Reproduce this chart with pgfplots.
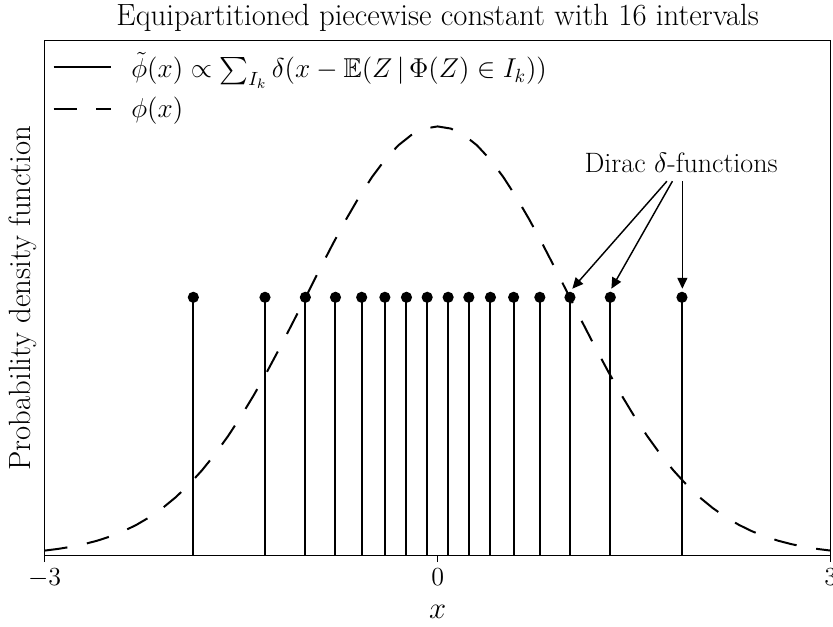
\documentclass[border=0pt]{standalone}
\usepackage{fix-cm}
\usepackage{pgfplots}
\pgfplotsset{compat=1.18}
\usepackage{amssymb}
\usetikzlibrary{arrows.meta}

\begin{document}
\begin{tikzpicture}[font=\fontsize{15.5}{18}\selectfont]
\begin{axis}[
  name=ax,
  scale only axis,
  width=434.8pt, height=284.7pt,
  xmin=-3, xmax=3, ymin=0, ymax=0.4787,
  xtick={-3,0,3},
  ytick=\empty,
  tick pos=left,
  tick align=outside,
  major tick length=3.7pt,
  every tick/.style={black, line width=0.8pt},
  axis line style={line width=0.8pt},
  tick label style={font=\fontsize{14.4}{17}\selectfont},
  clip=false,
  title={Equipartitioned piecewise constant with 16 intervals},
  title style={at={(axis description cs:0.5,1)}, anchor=center, yshift=6.5pt,
    font=\fontsize{17}{20}\selectfont},
  xlabel={$x$},
  xlabel style={at={(axis description cs:0.5,0)}, anchor=center, yshift=-31.4pt,
    font=\fontsize{17}{20}\selectfont},
  ylabel={Probability density function},
  ylabel style={at={(axis description cs:-0.0276,0.5)}, anchor=center,
    font=\fontsize{17}{20}\selectfont},
  legend image code/.code={\draw[#1] (0pt,0pt) -- (32pt,0pt);},
  legend style={draw=none, fill=none, at={(axis description cs:0.005,0.9915)},
    anchor=north west, row sep=5pt, column sep=8.5pt, inner sep=2pt,
    font=\fontsize{15.1}{18}\selectfont},
  legend cell align=left,
]
% legend sample for the stem plot: a plain solid line
\addlegendimage{black, line width=1.1pt}
\addlegendentry{$\tilde{\phi}(x) \propto \sum_{I_k} \delta(x - \mathbb{E}(Z \,|\, \Phi(Z) \in I_k))$}

% conditional means of Z over the 16 equiprobable intervals
\addplot[black, line width=1.1pt, ycomb, mark=*, mark size=2.5pt,
  mark options={solid, fill=black}, forget plot] coordinates {
  (-1.865,0.24) (-1.318,0.24) (-1.010,0.24) (-0.780,0.24)
  (-0.580,0.24) (-0.403,0.24) (-0.238,0.24) (-0.080,0.24)
  (0.080,0.24) (0.238,0.24) (0.403,0.24) (0.580,0.24)
  (0.780,0.24) (1.010,0.24) (1.318,0.24) (1.865,0.24)
};

% standard normal density
\addplot[black, line width=1.1pt, dash pattern=on 12.7pt off 11pt] coordinates {
  (-3.0,0.00443) (-2.9,0.00595) (-2.8,0.00792) (-2.7,0.01042) (-2.6,0.01358)
  (-2.5,0.01753) (-2.4,0.02239) (-2.3,0.02833) (-2.2,0.03547) (-2.1,0.04398)
  (-2.0,0.05399) (-1.9,0.06562) (-1.8,0.07895) (-1.7,0.09405) (-1.6,0.11092)
  (-1.5,0.12952) (-1.4,0.14973) (-1.3,0.17137) (-1.2,0.19419) (-1.1,0.21785)
  (-1.0,0.24197) (-0.9,0.26609) (-0.8,0.28969) (-0.7,0.31225) (-0.6,0.33322)
  (-0.5,0.35207) (-0.4,0.36827) (-0.3,0.38139) (-0.2,0.39104) (-0.1,0.39695)
  (0.0,0.39894)
  (0.1,0.39695) (0.2,0.39104) (0.3,0.38139) (0.4,0.36827) (0.5,0.35207)
  (0.6,0.33322) (0.7,0.31225) (0.8,0.28969) (0.9,0.26609) (1.0,0.24197)
  (1.1,0.21785) (1.2,0.19419) (1.3,0.17137) (1.4,0.14973) (1.5,0.12952)
  (1.6,0.11092) (1.7,0.09405) (1.8,0.07895) (1.9,0.06562) (2.0,0.05399)
  (2.1,0.04398) (2.2,0.03547) (2.3,0.02833) (2.4,0.02239) (2.5,0.01753)
  (2.6,0.01358) (2.7,0.01042) (2.8,0.00792) (2.9,0.00595) (3.0,0.00443)
};
\addlegendentry{$\phi(x)$}

% annotation pointing at three of the deltas
\node at (axis cs:1.859,0.3655) {Dirac $\delta$-functions};
\draw[line width=0.8pt, -{Triangle[length=6pt,width=5.5pt]}]
  (axis cs:1.750,0.348) -- (axis cs:1.028,0.248);
\draw[line width=0.8pt, -{Triangle[length=6pt,width=5.5pt]}]
  (axis cs:1.792,0.348) -- (axis cs:1.326,0.248);
\draw[line width=0.8pt, -{Triangle[length=6pt,width=5.5pt]}]
  (axis cs:1.868,0.348) -- (axis cs:1.868,0.248);
\end{axis}
\pgfresetboundingbox
\useasboundingbox ([xshift=-24.7pt,yshift=-39.1pt]ax.south west)
  rectangle ([xshift=1.3pt,yshift=22.5pt]ax.north east);
\end{tikzpicture}
\end{document}
